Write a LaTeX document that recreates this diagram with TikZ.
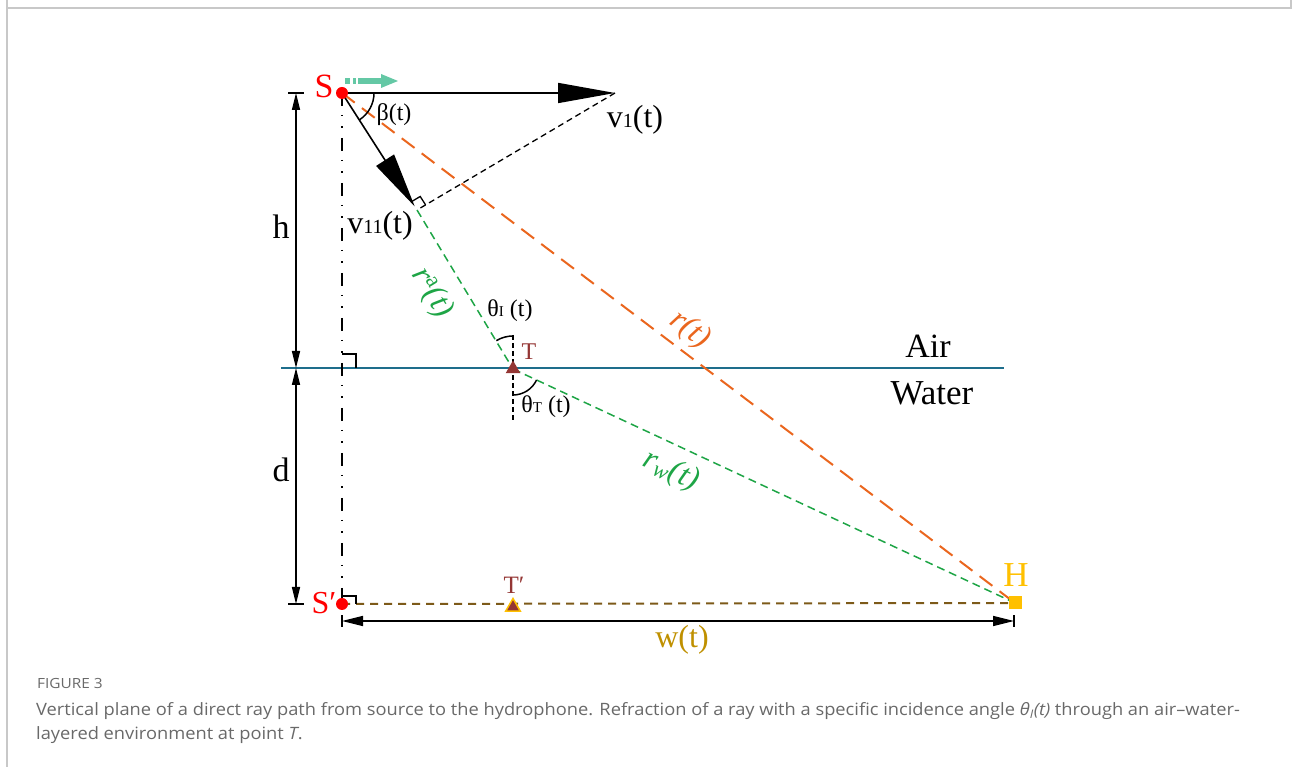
\documentclass[tikz,border=0pt]{standalone}
\usepackage{graphicx}
\usepackage{fontspec}
\setmainfont{Liberation Serif}
\newfontfamily\capfont{Open Sans}
\usetikzlibrary{arrows.meta,calc,shapes.geometric}
\definecolor{sred}{RGB}{255,0,0}
\definecolor{rorange}{RGB}{234,102,30}
\definecolor{rgreen}{RGB}{30,165,70}
\definecolor{surf}{RGB}{30,110,140}
\definecolor{tbrown}{RGB}{148,54,52}
\definecolor{hgold}{RGB}{255,192,0}
\definecolor{wgold}{RGB}{191,144,0}
\definecolor{pbrown}{RGB}{125,90,25}
\definecolor{mint}{RGB}{100,200,165}
\definecolor{capgray}{RGB}{105,105,105}
\definecolor{framegray}{RGB}{200,200,200}
\pgfdeclarelayer{bg}
\pgfsetlayers{bg,main}
\tikzset{
  lbl/.style={inner sep=0pt, font=\fontsize{32}{32}\selectfont},
  slbl/.style={inner sep=0pt, font=\fontsize{24}{24}\selectfont},
  dotnode/.style={circle, fill=sred, inner sep=0pt, minimum size=12pt},
  trinode/.style={regular polygon, regular polygon sides=3, inner sep=0pt, minimum size=17pt, fill=tbrown},
  sqnode/.style={rectangle, fill=hgold, inner sep=0pt, minimum size=13pt},
  vecline/.style={line width=1.6pt, -{Triangle[length=57pt,width=20pt]}},
  vecline2/.style={line width=1.6pt, -{Triangle[length=55pt,width=21pt]}},
  blkdash/.style={line width=1.3pt, dash pattern=on 6pt off 4pt},
  greendash/.style={line width=1.5pt, rgreen, dash pattern=on 8pt off 5pt},
  orangedash/.style={line width=2pt, rorange, dash pattern=on 16pt off 9pt},
  browndash/.style={line width=2pt, pbrown, dash pattern=on 8pt off 6pt},
  dashdotline/.style={line width=1.5pt, dash pattern=on 13pt off 9pt on 1.5pt off 10pt on 1.5pt off 10pt},
  surfline/.style={line width=1.8pt, surf},
  dimline/.style={line width=1.4pt, {Triangle[length=17pt,width=8pt]}-{Triangle[length=17pt,width=8pt]}},
  wdim/.style={line width=1.6pt, {Triangle[length=21pt,width=10pt]}-{Triangle[length=21pt,width=10pt]}},
  angarc/.style={line width=1.5pt},
  capstyle/.style={inner sep=0pt, anchor=base west, text=capgray},
}
\begin{document}
\begin{tikzpicture}[x=1pt,y=1pt]
\useasboundingbox (0,0) rectangle (1293,767);
% frame
\draw[framegray, line width=1.5pt] (7,767) -- (7,759) -- (1291,759) -- (1291,767);
\draw[framegray, line width=1.5pt] (7,759) -- (7,0);

% key points
\node[dotnode] (S) at (342,674) {};
\node[dotnode] (Sp) at (342,163) {};
\coordinate (V1) at (615,674);
\coordinate (V11) at (417,557);
\node[trinode] (T) at (513,398) {};
\node[trinode, draw=hgold, line width=1.5pt] (Tp) at (513,160) {};
\node[sqnode] (H) at (1015,164) {};
\coordinate (SurfL) at (281,399);
\coordinate (SurfR) at (1004,399);
\coordinate (Nup) at (513,432);
\coordinate (Ndn) at (513,347);
\coordinate (hT) at (296,674);
\coordinate (hM) at (296,399);
\coordinate (hB) at (296,163);
\coordinate (wL) at (342,146);
\coordinate (wR) at (1014,146);

\begin{pgfonlayer}{bg}
  \draw[surfline] (SurfL) -- (SurfR);
  \draw[dashdotline] (S.center) -- (Sp.center);
  \draw[blkdash, dash pattern=on 5pt off 3pt] (Nup) -- (Ndn);
  \draw[orangedash] (S.center) -- (H.center);
  \draw[greendash] (V11) -- (T.center);
  \draw[greendash] (T.center) -- (H.center);
  \draw[browndash] (Sp.center) -- (H.center);
  \draw[blkdash] (V1) -- (V11);
  \draw[vecline] (S.center) -- (V1);
  \draw[vecline2] (S.center) -- ($(S.center)!0.97!(V11)$);
  % right angle at V11
  \draw[line width=1.3pt] ($(V11)!10pt!(S.center)$) -- ($($(V11)!10pt!(S.center)$)+($(V11)!10pt!(V1)$)-(V11)$) -- ($(V11)!10pt!(V1)$);
  % right angle marks on dash-dot line
  \draw[line width=1.3pt] (342,413) -- (356,413) -- (356,399);
  \draw[line width=1.3pt] (342,171) -- (356,171) -- (356,163);
  % angle arcs
  \draw[angarc] ($(S.center)+(32,0)$) arc[start angle=0, end angle=-57.3, radius=32];
  \draw[angarc] ($(T.center)+(0,33)$) arc[start angle=90, end angle=121.3, radius=32];
  \draw[angarc] ($(T.center)+(0,-26)$) arc[start angle=-90, end angle=-25.1, radius=26];
  % dimensions
  \draw[dimline] (hT) -- (hM);
  \draw[dimline] (hM) -- (hB);
  \draw[line width=1.4pt] ($(hT)+(-8,0)$) -- ($(hT)+(8,0)$);
  \draw[line width=1.4pt] ($(hB)+(-8,0)$) -- ($(hB)+(8,0)$);
  \draw[wdim] (wL) -- (wR);
  \draw[line width=1.6pt] ($(wL)+(0,-6)$) -- ($(wL)+(0,6)$);
  \draw[line width=1.6pt] ($(wR)+(0,-6)$) -- ($(wR)+(0,6)$);
\end{pgfonlayer}

% mint motion arrow
\fill[mint] (345,683) rectangle (350,689);
\fill[mint] (353,683) rectangle (356,689);
\fill[mint] (358,683) rectangle (382,689);
\fill[mint] (381,693) -- (398,686) -- (381,679) -- cycle;

% labels
\node[lbl, text=sred, font=\fontsize{34}{34}\selectfont] (Slbl) at (324,681) {S};
\node[lbl, text=sred, font=\fontsize{32}{32}\selectfont] (Splbl) at (324,164) {S′};
\node[lbl] (v1lbl) at (635,647) {v{\fontsize{20}{20}\selectfont 1}(t)};
\node[slbl] (betalbl) at (394,652) {β(t)};
\node[lbl] (v11lbl) at (380,541) {v{\fontsize{20}{20}\selectfont 11}(t)};
\node[lbl, font=\fontsize{34}{34}\selectfont] (hlbl) at (281,540) {h};
\node[lbl, font=\fontsize{34}{34}\selectfont] (dlbl) at (281,297) {d};
\node[lbl, text=rgreen, rotate=-58.7] (ralbl) at (432,474) {\textit{r}\textsuperscript{a}\textit{(t)}};
\node[slbl] (thIlbl) at (510,456) {θ{\fontsize{15}{15}\selectfont I} (t)};
\node[slbl, text=tbrown] (Tlbl) at (529,415) {T};
\node[lbl, text=rorange, rotate=-37.2] (rlbl) at (690,437) {\textit{r(t)}};
\node[lbl, font=\fontsize{34}{34}\selectfont] (airlbl) at (928,421) {Air};
\node[lbl, font=\fontsize{35}{35}\selectfont] (waterlbl) at (932,374) {Water};
\node[slbl] (thTlbl) at (546,360) {θ{\fontsize{15}{15}\selectfont T} (t)};
\node[lbl, text=rgreen, rotate=-25.1] (rwlbl) at (671,296) {\textit{r}\textsubscript{\textit{w}}\textit{(t)}};
\node[lbl, text=hgold, font=\fontsize{35}{35}\selectfont] (Hlbl) at (1016,192) {H};
\node[slbl, text=tbrown, font=\fontsize{25}{25}\selectfont] (Tplbl) at (514,182) {T′};
\node[lbl, text=wgold] (wlbl) at (682,127) {w(t)};

% caption
\node[capstyle, font=\capfont\fontsize{14}{14}\selectfont] (figlbl) at (37,78) {\scalebox{1.1}[1]{FIGURE 3}};
\node[capstyle, font=\capfont\fontsize{17}{18}\selectfont] (cap1) at (36,51) {\scalebox{1.075}[1]{Vertical plane of a direct ray path from source to the hydrophone. Refraction of a ray with a specific incidence angle \textit{θ\textsubscript{I}(t)} through an air–water-}};
\node[capstyle, font=\capfont\fontsize{17}{18}\selectfont] (cap2) at (36,27) {\scalebox{1.075}[1]{layered environment at point \textit{T}.}};
\end{tikzpicture}
\end{document}
